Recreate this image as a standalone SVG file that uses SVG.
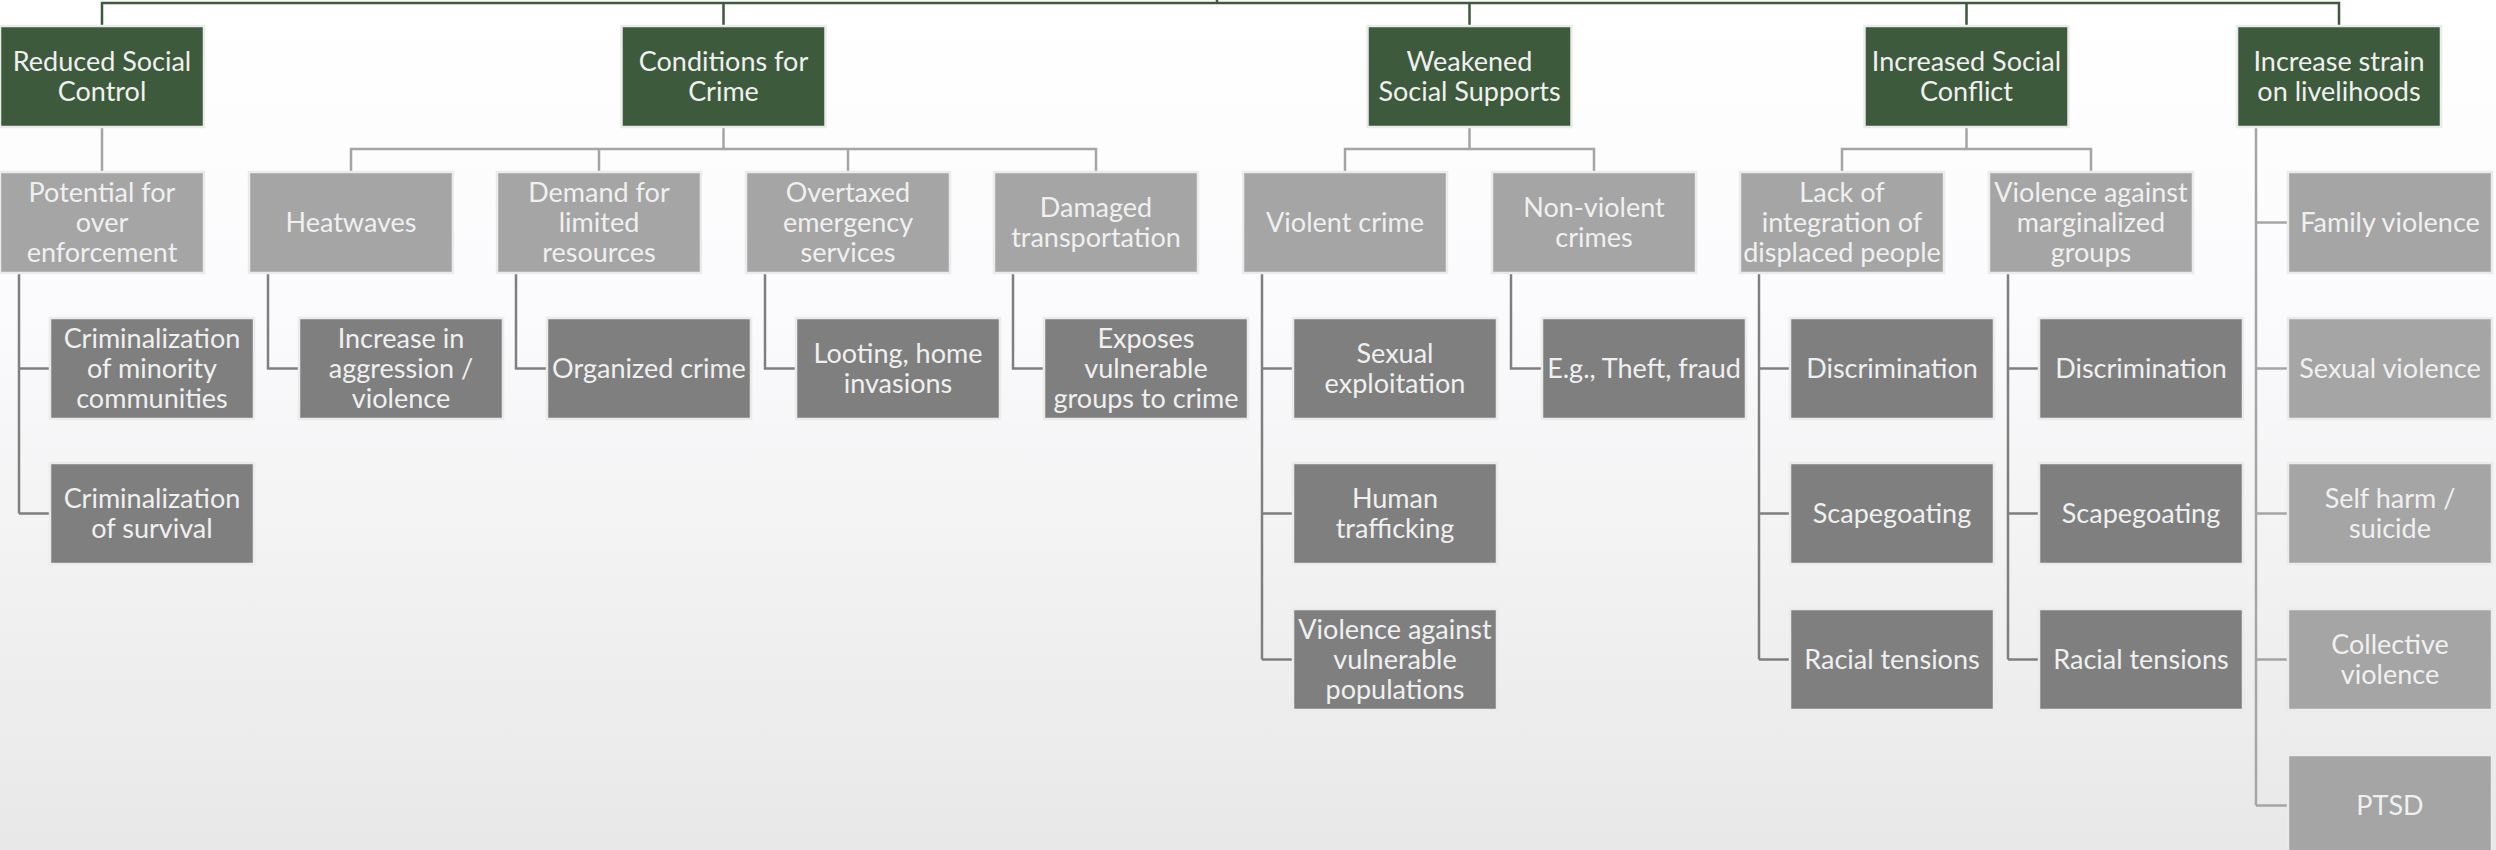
<svg xmlns="http://www.w3.org/2000/svg" width="2496" height="850" viewBox="0 0 2496 850">
<defs>
<linearGradient id="bg" x1="0" y1="0" x2="0" y2="1">
<stop offset="0" stop-color="#ffffff"/>
<stop offset="0.35" stop-color="#fbfbfd"/>
<stop offset="1" stop-color="#e8e8e8"/>
</linearGradient>
<style>
rect.b{stroke:#ebebeb;stroke-width:2.5}
rect.g{fill:#3d5a3c}
rect.l{fill:#a5a5a5}
rect.d{fill:#7f7f7f}
text{font-family:Lato,"Open Sans","DejaVu Sans",sans-serif;font-size:27px;text-anchor:middle;fill:#f0f0f0}
.c1{fill:none;stroke:#3d5a3c;stroke-width:2.5}
.c2{fill:none;stroke:#a5a5a5;stroke-width:2.5}
.c3{fill:none;stroke:#7f7f7f;stroke-width:2.5}
</style>
</defs>
<rect x="0" y="0" width="2496" height="850" fill="url(#bg)"/>
<g id="connectors">
<path class="c1" d="M1217 0V3M102 26V3H2339V26M723.5 3V26M1469.5 3V26M1966.5 3V26"/>
<path class="c2" d="M102 127V172M723.5 127V149M351 172V149H1096V172M599 149V172M848 149V172M1469.5 127V149M1345 172V149H1594V172M1966.5 127V149M1842 172V149H2091V172"/>
<path class="c2" d="M2256 127V805.5M2256 222.5H2288M2256 368.5H2288M2256 513.5H2288M2256 659.5H2288M2256 805.5H2288"/>
<path class="c3" d="M19 273V513.5M19 368.5H50M19 513.5H50M268 273V368.5H299M516 273V368.5H547M765 273V368.5H796M1013 273V368.5H1044M1262 273V659.5M1262 368.5H1293M1262 513.5H1293M1262 659.5H1293M1511 273V368.5H1542M1759 273V659.5M1759 368.5H1790M1759 513.5H1790M1759 659.5H1790M2008 273V659.5M2008 368.5H2039M2008 513.5H2039M2008 659.5H2039"/>
</g>
<g id="n-reduced"><rect class="b g" x="0" y="26" width="204" height="101"/><text x="102" y="70.5">Reduced Social</text><text x="102" y="100.5">Control</text></g>
<g id="n-conditions"><rect class="b g" x="621.5" y="26" width="204" height="101"/><text x="723.5" y="70.5">Conditions for</text><text x="723.5" y="100.5">Crime</text></g>
<g id="n-weakened"><rect class="b g" x="1367.5" y="26" width="204" height="101"/><text x="1469.5" y="70.5">Weakened</text><text x="1469.5" y="100.5">Social Supports</text></g>
<g id="n-conflict"><rect class="b g" x="1864.5" y="26" width="204" height="101"/><text x="1966.5" y="70.5">Increased Social</text><text x="1966.5" y="100.5">Conflict</text></g>
<g id="n-strain"><rect class="b g" x="2237" y="26" width="204" height="101"/><text x="2339" y="70.5">Increase strain</text><text x="2339" y="100.5">on livelihoods</text></g>

<g id="n-potential"><rect class="b l" x="0" y="172" width="204" height="101"/><text x="102" y="201.5">Potential for</text><text x="102" y="231.5">over</text><text x="102" y="261.5">enforcement</text></g>
<g id="n-heatwaves"><rect class="b l" x="249" y="172" width="204" height="101"/><text x="351" y="231.5">Heatwaves</text></g>
<g id="n-demand"><rect class="b l" x="497" y="172" width="204" height="101"/><text x="599" y="201.5">Demand for</text><text x="599" y="231.5">limited</text><text x="599" y="261.5">resources</text></g>
<g id="n-overtaxed"><rect class="b l" x="746" y="172" width="204" height="101"/><text x="848" y="201.5">Overtaxed</text><text x="848" y="231.5">emergency</text><text x="848" y="261.5">services</text></g>
<g id="n-damaged"><rect class="b l" x="994" y="172" width="204" height="101"/><text x="1096" y="216.5">Damaged</text><text x="1096" y="246.5">transportation</text></g>
<g id="n-violent"><rect class="b l" x="1243" y="172" width="204" height="101"/><text x="1345" y="231.5">Violent crime</text></g>
<g id="n-nonviolent"><rect class="b l" x="1492" y="172" width="204" height="101"/><text x="1594" y="216.5">Non-violent</text><text x="1594" y="246.5">crimes</text></g>
<g id="n-lack"><rect class="b l" x="1740" y="172" width="204" height="101"/><text x="1842" y="201.5">Lack of</text><text x="1842" y="231.5">integration of</text><text x="1842" y="261.5">displaced people</text></g>
<g id="n-vamg"><rect class="b l" x="1989" y="172" width="204" height="101"/><text x="2091" y="201.5">Violence against</text><text x="2091" y="231.5">marginalized</text><text x="2091" y="261.5">groups</text></g>

<g id="n-family"><rect class="b l" x="2288" y="172" width="204" height="101"/><text x="2390" y="231.5">Family violence</text></g>
<g id="n-sexualv"><rect class="b l" x="2288" y="318" width="204" height="101"/><text x="2390" y="377.5">Sexual violence</text></g>
<g id="n-selfharm"><rect class="b l" x="2288" y="463" width="204" height="101"/><text x="2390" y="507.5">Self harm /</text><text x="2390" y="537.5">suicide</text></g>
<g id="n-collective"><rect class="b l" x="2288" y="609" width="204" height="101"/><text x="2390" y="653.5">Collective</text><text x="2390" y="683.5">violence</text></g>
<g id="n-ptsd"><rect class="b l" x="2288" y="755" width="204" height="101"/><text x="2390" y="814.5">PTSD</text></g>

<g id="n-crimmin"><rect class="b d" x="50" y="318" width="204" height="101"/><text x="152" y="347.5">Criminalization</text><text x="152" y="377.5">of minority</text><text x="152" y="407.5">communities</text></g>
<g id="n-crimsurv"><rect class="b d" x="50" y="463" width="204" height="101"/><text x="152" y="507.5">Criminalization</text><text x="152" y="537.5">of survival</text></g>
<g id="n-aggression"><rect class="b d" x="299" y="318" width="204" height="101"/><text x="401" y="347.5">Increase in</text><text x="401" y="377.5">aggression /</text><text x="401" y="407.5">violence</text></g>
<g id="n-organized"><rect class="b d" x="547" y="318" width="204" height="101"/><text x="649" y="377.5">Organized crime</text></g>
<g id="n-looting"><rect class="b d" x="796" y="318" width="204" height="101"/><text x="898" y="362.5">Looting, home</text><text x="898" y="392.5">invasions</text></g>
<g id="n-exposes"><rect class="b d" x="1044" y="318" width="204" height="101"/><text x="1146" y="347.5">Exposes</text><text x="1146" y="377.5">vulnerable</text><text x="1146" y="407.5">groups to crime</text></g>
<g id="n-sexexp"><rect class="b d" x="1293" y="318" width="204" height="101"/><text x="1395" y="362.5">Sexual</text><text x="1395" y="392.5">exploitation</text></g>
<g id="n-human"><rect class="b d" x="1293" y="463" width="204" height="101"/><text x="1395" y="507.5">Human</text><text x="1395" y="537.5">trafficking</text></g>
<g id="n-vavp"><rect class="b d" x="1293" y="609" width="204" height="101"/><text x="1395" y="638.5">Violence against</text><text x="1395" y="668.5">vulnerable</text><text x="1395" y="698.5">populations</text></g>
<g id="n-theft"><rect class="b d" x="1542" y="318" width="204" height="101"/><text x="1644" y="377.5">E.g., Theft, fraud</text></g>
<g id="n-disc1"><rect class="b d" x="1790" y="318" width="204" height="101"/><text x="1892" y="377.5">Discrimination</text></g>
<g id="n-scape1"><rect class="b d" x="1790" y="463" width="204" height="101"/><text x="1892" y="522.5">Scapegoating</text></g>
<g id="n-racial1"><rect class="b d" x="1790" y="609" width="204" height="101"/><text x="1892" y="668.5">Racial tensions</text></g>
<g id="n-disc2"><rect class="b d" x="2039" y="318" width="204" height="101"/><text x="2141" y="377.5">Discrimination</text></g>
<g id="n-scape2"><rect class="b d" x="2039" y="463" width="204" height="101"/><text x="2141" y="522.5">Scapegoating</text></g>
<g id="n-racial2"><rect class="b d" x="2039" y="609" width="204" height="101"/><text x="2141" y="668.5">Racial tensions</text></g>
</svg>
